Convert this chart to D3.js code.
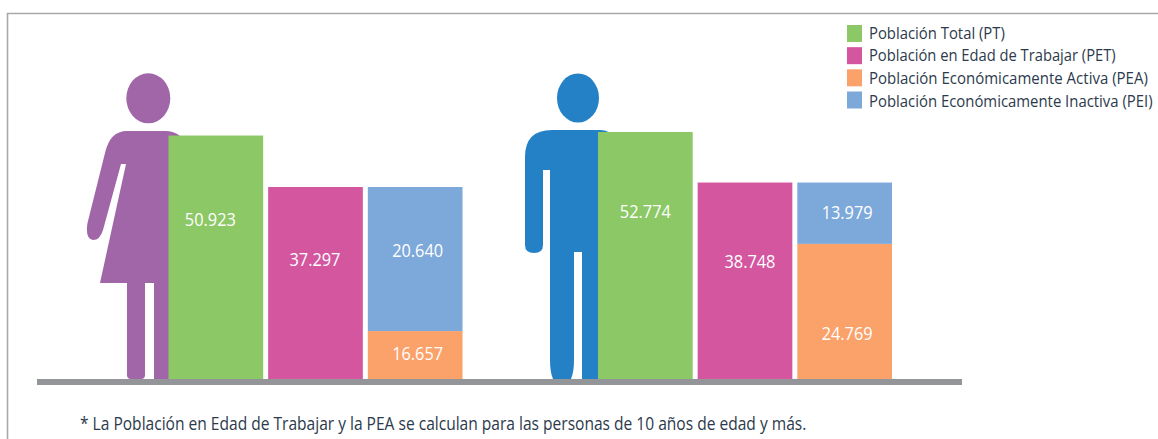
<!DOCTYPE html>
<html><head><meta charset="utf-8">
<script src="https://cdn.jsdelivr.net/npm/d3@7/dist/d3.min.js"></script>
<style>html,body{margin:0;padding:0;background:#fff}svg{display:block}text{font-family:"Open Sans",sans-serif}</style>
</head><body><svg id="c" width="1158" height="439"></svg>
<script>
const groups = ["Mujeres","Hombres"];
const seriesKeys = ["PT","PET","PEA","PEI"];
const seriesNames = ["Población Total (PT)","Población en Edad de Trabajar (PET)","Población Económicamente Activa (PEA)","Población Económicamente Inactiva (PEI)"];
const seriesColors = ["#8cc866","#d4569f","#fba16a","#7da8da"];
// printed labels
const labelsMujeres = {PT:"50.923",PET:"37.297",PEA:"16.657",PEI:"20.640"};
const labelsHombres = {PT:"52.774",PET:"38.748",PEA:"24.769",PEI:"13.979"};
// bar lengths (the printed bars are not strictly to scale)
const drawnMujeres = {PT:51800,PET:40850,PEA:10200,PEI:30650};
const drawnHombres = {PT:52550,PET:41800,PEA:28750,PEI:13050};
const footnote = "* La Población en Edad de Trabajar y la PEA se calculan para las personas de 10 años de edad y más.";

const svg = d3.select("#c");
const y = d3.scaleLinear().domain([0,60000]).range([379,97]);
const xGroup = d3.scaleOrdinal().domain(groups).range([168.5,598]);
const xBar = d3.scaleBand().domain(["PT","PET","STACK"]).range([0,294]).paddingInner(0.05).paddingOuter(0);

// frame
svg.append("path").attr("d","M7.5,439V13.5H1158").attr("fill","none").attr("stroke","#a8a9ab").attr("stroke-width",1.6);

// pictograms
const woman = svg.append("g").attr("fill","#a066a8");
woman.append("ellipse").attr("cx",148.3).attr("cy",98.3).attr("rx",22).attr("ry",25);
woman.append("path").attr("d","M127,131 H165 Q174,131 180,136 V379 H154 V283 H145 V375 Q145,379 141,379 H131 Q127,379 127,375 V283 H100 L126,164 H121 L103,230 Q100,240 93,240 Q85,239 87.5,223 L105,153 Q110,131 127,131 Z");
const man = svg.append("g").attr("fill","#2481c6");
man.append("ellipse").attr("cx",578).attr("cy",98).attr("rx",21).attr("ry",24.5);
man.append("path").attr("d","M552,130 H600 Q606,130 610,133 V379 H582 V252 H574 V360 Q574,372 571,379 H553 Q550,372 550,360 V170 H543 V245 Q543,253 534,253 Q525,253 525,245 V157 Q525,130 552,130 Z");

// horizontally condensed text, fitted to the width printed in the reference
function fitted(x,yy,t,size,width,fill,anchor){
  const g = svg.append("g");
  const n = g.append("text").attr("font-size",size).attr("fill",fill).text(t);
  const natural = n.node().getComputedTextLength();
  const sx = width/natural;
  const left = anchor==="middle" ? x-width/2 : x;
  n.attr("transform",`translate(${left},${yy}) scale(${sx},1)`);
}
function label(x,yy,t){ fitted(x,yy,t,18.5,51,"#fff","middle"); }

const stack = d3.stack().keys(["PEA","PEI"]);
[[groups[0],drawnMujeres],[groups[1],drawnHombres]].forEach(([g,vals])=>{
  const x0 = xGroup(g), w = xBar.bandwidth();
  ["PT","PET"].forEach(k=>{
    const x = x0 + xBar(k), top = y(vals[k]);
    svg.append("rect").attr("x",x).attr("y",top).attr("width",w).attr("height",y(0)-top).attr("fill",seriesColors[seriesKeys.indexOf(k)]);
  });
  stack([vals]).forEach(s=>{
    const [a,b] = s[0];
    svg.append("rect").attr("x",x0+xBar("STACK")).attr("y",y(b)).attr("width",w).attr("height",y(a)-y(b)).attr("fill",seriesColors[seriesKeys.indexOf(s.key)]);
  });
});
// labels, placed relative to the bars
function place(g,vals,labs,fr,dx){
  const x0=xGroup(g), w=xBar.bandwidth();
  label(x0+xBar("PT")+w/2+dx[0], y(vals.PT*fr.PT)+6, labs.PT);
  label(x0+xBar("PET")+w/2+dx[1], y(vals.PET*fr.PET)+6, labs.PET);
  const sx=x0+xBar("STACK")+w/2+dx[2];
  label(sx, y(vals.PEA*fr.PEA)+6, labs.PEA);
  label(sx, y(vals.PEA+vals.PEI*fr.PEI)+6, labs.PEI);
}
place(groups[0],drawnMujeres,labelsMujeres,{PT:0.652,PET:0.62,PEA:0.52,PEI:0.555},[-5.5,-0.5,2.5]);
place(groups[1],drawnHombres,labelsHombres,{PT:0.675,PET:0.595,PEA:0.33,PEI:0.50},[0,5,2.5]);

// baseline
svg.append("rect").attr("x",37).attr("y",y(0)).attr("width",925).attr("height",6).attr("fill","#939598");

// legend
const legY = d3.scalePoint().domain(seriesKeys).range([33.5,100]);
const legW = [136,247,279,284];
const legNudge = [5,5,6.5,6.5];
seriesKeys.forEach((k,i)=>{
  svg.append("rect").attr("x",847).attr("y",legY(k)-8.5).attr("width",15).attr("height",17).attr("fill",seriesColors[i]);
  fitted(869,legY(k)+legNudge[i],seriesNames[i],15.5,legW[i],"#2c3a4c","start");
});
fitted(80,430,footnote,17.5,727,"#2c3a4c","start");
</script></body></html>
